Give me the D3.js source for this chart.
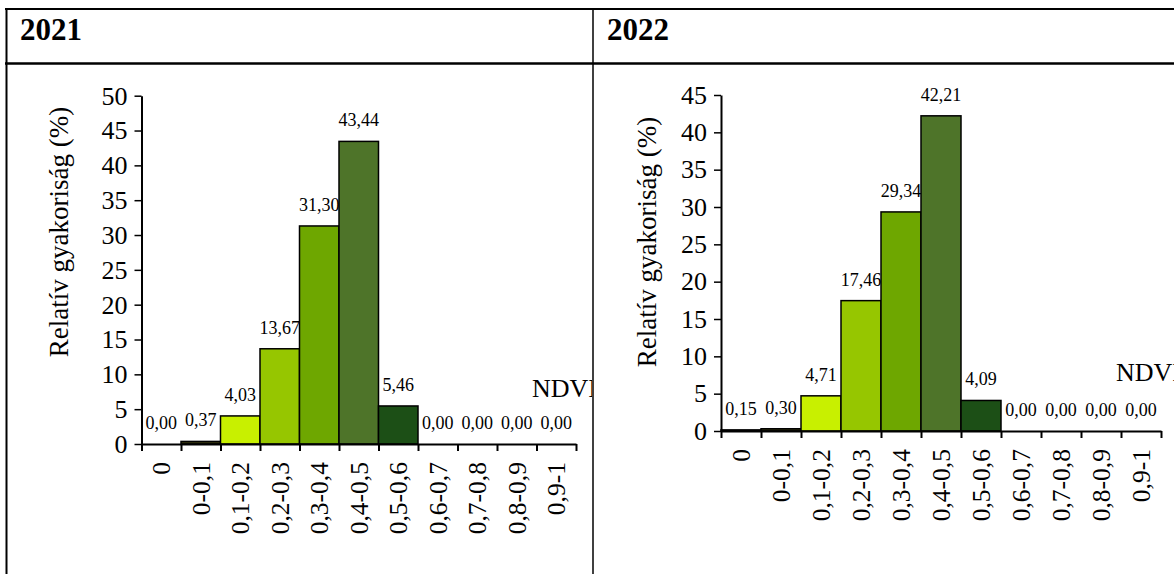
<!DOCTYPE html>
<html>
<head>
<meta charset="utf-8">
<script src="https://cdn.jsdelivr.net/npm/d3@7"></script>
<style>
  body { margin: 0; background: #fff; }
  svg { display: block; }
</style>
</head>
<body>
<svg width="1174" height="574"></svg>
<script>
// ---- data ----
var categories = ['0', '0-0,1', '0,1-0,2', '0,2-0,3', '0,3-0,4', '0,4-0,5', '0,5-0,6', '0,6-0,7', '0,7-0,8', '0,8-0,9', '0,9-1'];
var values2021 = [0.00, 0.37, 4.03, 13.67, 31.30, 43.44, 5.46, 0.00, 0.00, 0.00, 0.00];
var values2022 = [0.15, 0.30, 4.71, 17.46, 29.34, 42.21, 4.09, 0.00, 0.00, 0.00, 0.00];
var ticks2021 = [0, 5, 10, 15, 20, 25, 30, 35, 40, 45, 50];
var ticks2022 = [0, 5, 10, 15, 20, 25, 30, 35, 40, 45];
var barColors = ['#2e2e10', '#33330f', '#c8f000', '#96c600', '#6ea700', '#4e7429', '#1c4f16', '#1c4f16', '#1c4f16', '#1c4f16', '#1c4f16'];
var years = ['2021', '2022'];

var FONT = '"Liberation Serif", "Times New Roman", serif';
var svg = d3.select('svg');
var fmt = function(v) { return d3.format('.2f')(v).replace('.', ','); };

// ---- table frame ----
svg.append('line').attr('x1', 5).attr('x2', 1174).attr('y1', 9).attr('y2', 9)
    .attr('stroke', '#000').attr('stroke-width', 2);
svg.append('line').attr('x1', 5).attr('x2', 1174).attr('y1', 63.5).attr('y2', 63.5)
    .attr('stroke', '#000').attr('stroke-width', 2.5);
svg.append('line').attr('x1', 6.5).attr('x2', 6.5).attr('y1', 8).attr('y2', 574)
    .attr('stroke', '#000').attr('stroke-width', 2);
svg.append('line').attr('x1', 593).attr('x2', 593).attr('y1', 8).attr('y2', 574)
    .attr('stroke', '#000').attr('stroke-width', 1.5);

// headers
svg.append('text').attr('x', 20).attr('y', 40).style('font-family', FONT)
    .style('font-size', '31px').style('font-weight', 'bold').text(years[0]);
svg.append('text').attr('x', 607).attr('y', 40).style('font-family', FONT)
    .style('font-size', '31px').style('font-weight', 'bold').text(years[1]);

svg.append('defs').append('clipPath').attr('id', 'clipLeft')
    .append('rect').attr('x', 7).attr('y', 65).attr('width', 585).attr('height', 509);

function drawPanel(values, ticks, cfg) {
    var g = svg.append('g');
    if (cfg.clip) g.attr('clip-path', 'url(#' + cfg.clip + ')');

    var x = d3.scaleBand().domain(categories).range([cfg.x0, cfg.x1]).padding(0);
    var xb = d3.scaleLinear().domain([0, categories.length]).range([cfg.x0, cfg.x1]);
    var y = d3.scaleLinear().domain([0, d3.max(ticks)]).range([cfg.y0, cfg.yTop]);

    // value labels (drawn under the bars)
    g.selectAll('.val').data(values).enter().append('text')
        .attr('class', 'val')
        .attr('x', function(d, i) { return x(categories[i]) + x.bandwidth() / 2; })
        .attr('y', function(d) { return y(d) - 15; })
        .attr('text-anchor', 'middle')
        .style('font-family', FONT)
        .style('font-size', '18px')
        .text(function(d) { return fmt(d); });

    // bars
    g.selectAll('.bar').data(values).enter().append('rect')
        .attr('class', 'bar')
        .attr('x', function(d, i) { return x(categories[i]); })
        .attr('y', function(d) { return y(d); })
        .attr('width', x.bandwidth())
        .attr('height', function(d) { return cfg.y0 - y(d); })
        .attr('fill', function(d, i) { return barColors[i]; })
        .attr('stroke', '#000')
        .attr('stroke-width', 1.5);

    // y axis
    var yAxis = d3.axisLeft(y).tickValues(ticks).tickSize(7).tickSizeOuter(0).tickPadding(7);
    var ya = g.append('g').attr('transform', 'translate(' + cfg.x0 + ',0)').call(yAxis);
    ya.select('.domain').attr('stroke-width', 2);
    ya.selectAll('.tick line').attr('stroke-width', 1.5);
    ya.selectAll('text').style('font-family', FONT).style('font-size', '26px');

    // x axis with ticks at category boundaries
    var xAxis = d3.axisBottom(xb).ticks(categories.length).tickSize(7).tickSizeOuter(0).tickFormat('');
    var xa = g.append('g').attr('transform', 'translate(0,' + cfg.y0 + ')').call(xAxis);
    xa.select('.domain').attr('stroke-width', 2);
    xa.selectAll('.tick line').attr('stroke-width', 2);

    g.selectAll('.cat').data(categories).enter().append('text')
        .attr('class', 'cat')
        .attr('transform', function(d) {
            return 'translate(' + (x(d) + x.bandwidth() / 2) + ',' + (cfg.y0 + 18) + ') rotate(-90)';
        })
        .attr('text-anchor', 'end')
        .attr('dy', '0.35em')
        .style('font-family', FONT)
        .style('font-size', '25.5px')
        .text(function(d) { return d; });

    // y axis title
    g.append('text')
        .attr('transform', 'translate(' + cfg.titleX + ',' + cfg.titleY + ') rotate(-90)')
        .attr('text-anchor', 'middle')
        .attr('dy', '0.35em')
        .style('font-family', FONT)
        .style('font-size', '27px')
        .text('Relatív gyakoriság (%)');

    // NDVI label
    g.append('text')
        .attr('x', cfg.ndviX).attr('y', cfg.ndviY)
        .style('font-family', FONT)
        .style('font-size', '26px')
        .text('NDVI');
}

drawPanel(values2021, ticks2021, {
    x0: 141.5, x1: 576, y0: 444, yTop: 95.7,
    titleX: 59, titleY: 232, ndviX: 532, ndviY: 397, clip: 'clipLeft'
});
drawPanel(values2022, ticks2022, {
    x0: 721, x1: 1161, y0: 431, yTop: 95,
    titleX: 647, titleY: 242, ndviX: 1116, ndviY: 381
});
</script>
</body>
</html>
